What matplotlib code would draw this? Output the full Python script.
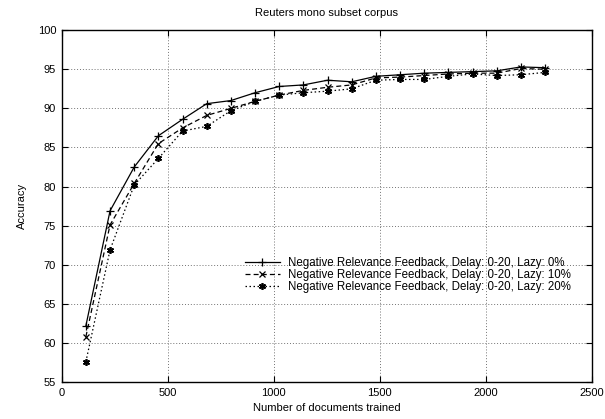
import matplotlib
matplotlib.use("Agg")
import matplotlib.pyplot as plt

plt.rcParams['font.family'] = ['Liberation Sans', 'DejaVu Sans']

docs = [114, 228, 342, 456, 570, 684, 798, 912, 1026, 1140,
        1254, 1368, 1482, 1596, 1710, 1824, 1938, 2052, 2166, 2280]
lazy0 = [62.2, 76.9, 82.5, 86.5, 88.6, 90.6, 91.0, 92.0, 92.8, 93.0,
         93.6, 93.4, 94.1, 94.3, 94.5, 94.6, 94.7, 94.8, 95.3, 95.2]
lazy10 = [60.8, 75.1, 80.4, 85.5, 87.5, 89.1, 90.0, 90.9, 91.7, 92.3,
          92.7, 93.0, 93.9, 94.0, 94.2, 94.4, 94.5, 94.5, 95.1, 95.0]
lazy20 = [57.6, 71.9, 80.2, 83.6, 87.1, 87.7, 89.7, 90.9, 91.7, 92.0,
          92.2, 92.5, 93.6, 93.7, 93.7, 94.1, 94.4, 94.2, 94.3, 94.6]
labels = ["Negative Relevance Feedback, Delay: 0-20, Lazy: 0%",
          "Negative Relevance Feedback, Delay: 0-20, Lazy: 10%",
          "Negative Relevance Feedback, Delay: 0-20, Lazy: 20%"]
xticks = [0, 500, 1000, 1500, 2000, 2500]
yticks = [55, 60, 65, 70, 75, 80, 85, 90, 95, 100]

fig = plt.figure(figsize=(6.05, 4.19), dpi=100)
ax = fig.add_axes([0.102, 0.088, 0.876, 0.840])

ax.plot(docs, lazy0, color='black', lw=0.9, ls='-', marker='+', ms=6, mew=0.9, label=labels[0])
ax.plot(docs, lazy10, color='black', lw=0.9, ls=(0, (4, 2.5)), marker='x', ms=4.5, mew=0.9, label=labels[1])
ax.plot(docs, lazy20, color='black', lw=0.9, ls=(0, (1.2, 2)), marker=(6, 2, 0), ms=5, mew=1.2, label=labels[2])

ax.set_xlim(0, 2500)
ax.set_ylim(55, 100)
ax.set_xticks(xticks)
ax.set_yticks(yticks)
ax.tick_params(direction='in', length=4, width=0.8, top=True, right=True, labelsize=8, pad=4)
ax.grid(True, color='0.45', ls=(0, (1, 2)), lw=0.7)
for s in ax.spines.values():
    s.set_linewidth(1.0)

ax.set_title("Reuters mono subset corpus", fontsize=8, pad=10)
ax.set_xlabel("Number of documents trained", fontsize=8, labelpad=4)
ax.set_ylabel("Accuracy", fontsize=8, labelpad=8)

leg = ax.legend(loc='upper left', bbox_to_anchor=(0.335, 0.372), frameon=False, fontsize=8.3,
                handlelength=3.0, handletextpad=0.7, labelspacing=0.0, borderpad=0.0)

fig.savefig("out.png", dpi=100)
